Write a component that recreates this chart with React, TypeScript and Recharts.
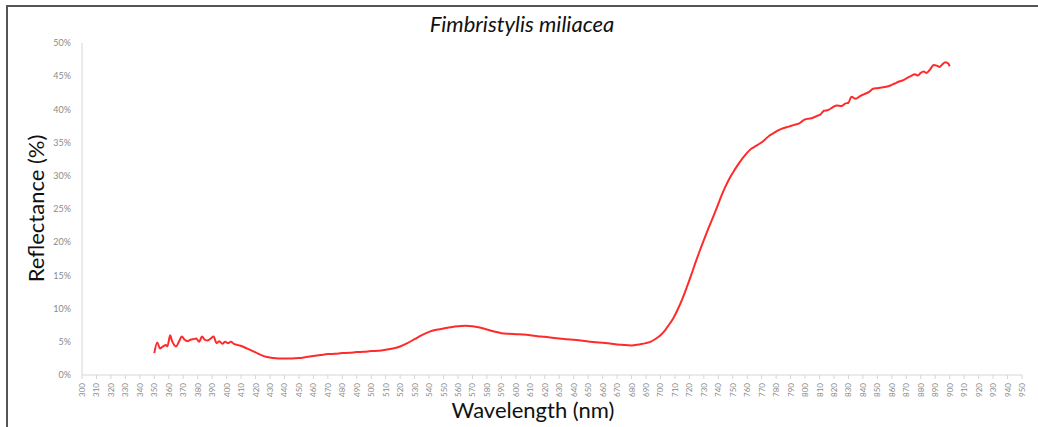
import React from "react";
import { LineChart, Line, XAxis, YAxis } from "recharts";

// wavelength (nm) and reflectance (%)
const wavelengths = [
    350, 352, 354, 356, 358, 359, 361, 362, 363, 365, 367, 369, 371, 373, 375, 377, 379, 381, 383, 385,
    387, 389, 391, 393, 395, 397, 399, 401, 403, 405, 408, 411, 414, 417, 420, 424, 428, 432, 436, 440,
    445, 450, 455, 460, 465, 470, 475, 480, 485, 490, 495, 500, 505, 510, 515, 520, 525, 530, 535, 540,
    545, 550, 555, 560, 565, 570, 575, 580, 585, 590, 595, 600, 605, 610, 615, 620, 625, 630, 635, 640,
    645, 650, 655, 660, 665, 670, 675, 680, 685, 690, 693, 697, 700, 703, 706, 709, 712, 715, 718, 721,
    724, 727, 730, 733, 736, 739, 742, 745, 748, 751, 754, 757, 760, 763, 766, 769, 772, 775, 778, 781,
    784, 787, 790, 793, 796, 799, 802, 805, 808, 811, 813, 816, 819, 822, 825, 828, 830, 832, 835, 838,
    841, 844, 847, 850, 853, 856, 859, 862, 865, 868, 871, 873, 876, 878, 880, 882, 884, 886, 889, 891,
    893, 895, 897, 899, 900,
];

const reflectance = [
    3.3, 4.9, 4.0, 4.3, 4.5, 4.3, 6.0, 5.3, 4.8, 4.3, 5.0, 5.8, 5.3, 5.1, 5.3, 5.4, 5.5, 5.0, 5.8, 5.3,
    5.2, 5.5, 5.8, 4.8, 5.1, 4.7, 5.0, 4.8, 5.0, 4.7, 4.5, 4.3, 4.0, 3.7, 3.4, 3.0, 2.7, 2.55, 2.5, 2.5,
    2.5, 2.55, 2.7, 2.85, 3.0, 3.15, 3.2, 3.3, 3.35, 3.45, 3.5, 3.6, 3.65, 3.8, 4.0, 4.3, 4.8, 5.4, 6.0, 6.5,
    6.8, 7.0, 7.2, 7.35, 7.4, 7.35, 7.15, 6.85, 6.55, 6.3, 6.2, 6.15, 6.1, 6.0, 5.85, 5.75, 5.6, 5.5, 5.4, 5.3,
    5.2, 5.05, 4.95, 4.85, 4.75, 4.6, 4.5, 4.45, 4.6, 4.8, 5.0, 5.5, 6.0, 6.7, 7.6, 8.6, 9.9, 11.4, 13.1, 14.9,
    16.8, 18.6, 20.3, 22.0, 23.6, 25.2, 26.9, 28.4, 29.7, 30.8, 31.8, 32.7, 33.5, 34.1, 34.5, 34.9, 35.4, 36.0, 36.4, 36.8,
    37.1, 37.3, 37.5, 37.7, 37.9, 38.4, 38.6, 38.7, 39.0, 39.3, 39.8, 39.9, 40.3, 40.6, 40.5, 40.9, 41.0, 41.9, 41.6, 42.0,
    42.3, 42.6, 43.1, 43.2, 43.3, 43.4, 43.6, 43.9, 44.2, 44.4, 44.8, 45.0, 45.3, 45.1, 45.5, 45.7, 45.5, 45.9, 46.7, 46.6,
    46.4, 46.8, 47.1, 46.9, 46.5,
];

const xTicks = [
    300, 310, 320, 330, 340, 350, 360, 370, 380, 390, 400, 410, 420, 430, 440, 450, 460, 470, 480, 490,
    500, 510, 520, 530, 540, 550, 560, 570, 580, 590, 600, 610, 620, 630, 640, 650, 660, 670, 680, 690,
    700, 710, 720, 730, 740, 750, 760, 770, 780, 790, 800, 810, 820, 830, 840, 850, 860, 870, 880, 890,
    900, 910, 920, 930, 940, 950,
];
const yTicks = [0, 5, 10, 15, 20, 25, 30, 35, 40, 45, 50];

const data = wavelengths.map((nm, i) => ({ nm, r: reflectance[i] }));

const font = "Lato, 'Open Sans', sans-serif";

const XTick = ({ x, y, payload }: any) => (
    <g transform={`translate(${x},${y})`}>
        <text
            transform="rotate(-90)"
            x={-2}
            y={3}
            textAnchor="end"
            fontSize={8}
            fontFamily={font}
            fill="#8a8a8a"
        >
            {payload.value}
        </text>
    </g>
);

export default function App() {
    return (
        <div
            style={{
                position: "absolute",
                left: 0,
                top: 0,
                width: 1038,
                height: 427,
                background: "#fff",
                overflow: "hidden",
                fontFamily: font,
            }}
        >
            <div
                style={{
                    position: "absolute",
                    left: 6,
                    top: 5,
                    width: 1100,
                    height: 500,
                    borderLeft: "2px solid #555",
                    borderTop: "2px solid #555",
                }}
            />
            <LineChart
                width={1038}
                height={427}
                data={data}
                margin={{ top: 43, right: 16, left: 32, bottom: 0 }}
                style={{ position: "absolute", left: 0, top: 0 }}
            >
                <XAxis
                    dataKey="nm"
                    type="number"
                    domain={[300, 950]}
                    ticks={xTicks}
                    interval={0}
                    height={52}
                    stroke="#d6d6d6"
                    tickSize={4}
                    tick={<XTick />}
                />
                <YAxis
                    type="number"
                    domain={[0, 50]}
                    ticks={yTicks}
                    interval={0}
                    width={50}
                    stroke="#d6d6d6"
                    tickLine={false}
                    tickMargin={5}
                    tickFormatter={(v) => `${v}%`}
                    tick={{ fontSize: 9, fill: "#8a8a8a", fontFamily: font }}
                />
                <Line
                    type="monotone"
                    dataKey="r"
                    stroke="#ff2a2a"
                    strokeWidth={2}
                    dot={false}
                    isAnimationActive={false}
                />
            </LineChart>
            <div
                style={{
                    position: "absolute",
                    left: 322,
                    width: 400,
                    top: 10,
                    textAlign: "center",
                    fontStyle: "italic",
                    fontSize: 22,
                    color: "#111",
                }}
            >
                Fimbristylis miliacea
            </div>
            <div
                style={{
                    position: "absolute",
                    left: 333,
                    width: 400,
                    top: 396,
                    textAlign: "center",
                    fontSize: 22,
                    color: "#111",
                }}
            >
                Wavelength (nm)
            </div>
            <div
                style={{
                    position: "absolute",
                    left: 35 - 100,
                    width: 200,
                    top: 209 - 14,
                    textAlign: "center",
                    fontSize: 22,
                    color: "#111",
                    transform: "rotate(-90deg)",
                }}
            >
                Reflectance (%)
            </div>
        </div>
    );
}
